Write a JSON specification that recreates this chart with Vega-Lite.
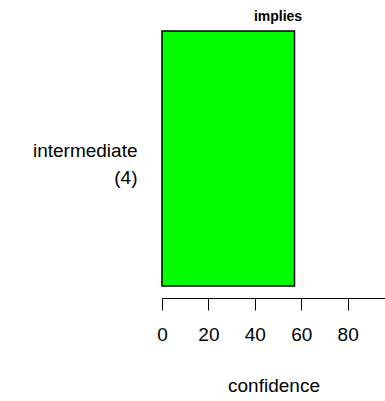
{
  "$schema": "https://vega.github.io/schema/vega-lite/v6.json",
  "autosize": {"type": "none"},
  "width": 223,
  "height": 279,
  "padding": {"left": 162, "top": 19, "right": 0, "bottom": 103},
  "background": "white",
  "title": {"text": "implies", "fontSize": 14, "fontWeight": "bold", "font": "Liberation Sans", "color": "black", "anchor": "middle", "dx": 4.5, "baseline": "alphabetic", "offset": -16},
  "data": {"values": [{"category": "intermediate\n(4)", "confidence": 57.1}]},
  "mark": {"type": "bar", "fill": "#00ff00", "stroke": "black", "strokeWidth": 1.5},
  "encoding": {
    "y": {
      "field": "category", "type": "nominal",
      "scale": {"paddingInner": 0, "paddingOuter": 0.047},
      "axis": {"title": null, "domain": false, "ticks": false, "labelAlign": "right", "labelBaseline": "middle", "labelPadding": 25, "labelOffset": -8, "labelFont": "Liberation Sans", "labelFontSize": 19, "labelColor": "black", "labelLineHeight": 27, "labelExpr": "split(datum.label, '\\n')"}
    },
    "x": {
      "field": "confidence", "type": "quantitative",
      "scale": {"domain": [0, 96.1], "nice": false, "zero": true},
      "axis": {"title": "confidence", "values": [0, 20, 40, 60, 80], "grid": false, "domainColor": "black", "domainWidth": 1, "tickColor": "black", "tickSize": 12, "tickWidth": 1, "labelFont": "Liberation Sans", "labelFontSize": 19, "labelColor": "black", "labelPadding": 15, "labelFlush": false, "titleFont": "Liberation Sans", "titleFontSize": 19, "titleFontWeight": "normal", "titleColor": "black", "titlePadding": 32}
    }
  },
  "config": {"view": {"stroke": null}}
}
